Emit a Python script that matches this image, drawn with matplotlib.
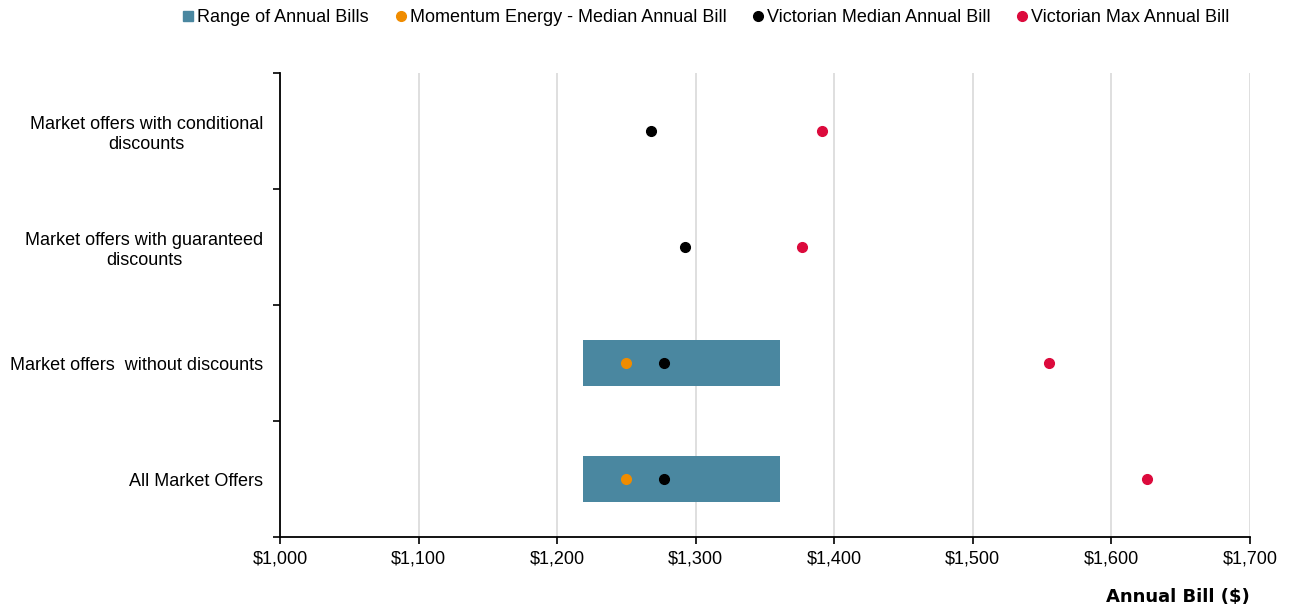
import matplotlib
matplotlib.use("Agg")
import matplotlib.pyplot as plt
from matplotlib.lines import Line2D
from matplotlib.ticker import FuncFormatter, MultipleLocator

categories = ["All Market Offers", "Market offers  without discounts",
              "Market offers with guaranteed\ndiscounts", "Market offers with conditional\ndiscounts"]
range_low = [1219, 1219, None, None]
range_high = [1361, 1361, None, None]
momentum_median = [1250, 1250, None, None]
vic_median = [1277, 1277, 1292, 1268]
vic_max = [1626, 1555, 1377, 1391]

plt.rcParams['font.family'] = ['Liberation Sans', 'DejaVu Sans']

fig = plt.figure(figsize=(12.91, 6.13), dpi=100)
ax = fig.add_axes([280/1291, 1-537/613, 970/1291, 464/613])

bar_color = '#4A87A0'
orange = '#F08C00'
red = '#DC0A3C'

ys = list(range(len(categories)))
for y, lo, hi in zip(ys, range_low, range_high):
    if lo is not None:
        ax.barh(y, hi - lo, left=lo, height=0.4, color=bar_color, zorder=2)
for y, v in zip(ys, momentum_median):
    if v is not None:
        ax.plot(v, y, 'o', color=orange, ms=7, zorder=3)
for y, v in zip(ys, vic_median):
    ax.plot(v, y, 'o', color='black', ms=7, zorder=3)
for y, v in zip(ys, vic_max):
    ax.plot(v, y, 'o', color=red, ms=7, zorder=3)

ax.set_xlim(1000, 1700)
ax.set_ylim(-0.5, len(categories) - 0.5)
ax.xaxis.set_major_locator(MultipleLocator(100))
ax.xaxis.set_major_formatter(FuncFormatter(lambda v, p: f"${v:,.0f}"))
ax.grid(axis='x', color='#D9D9D9', lw=1.2, zorder=0)
ax.set_axisbelow(True)

ax.set_yticks(ys)
ax.set_yticklabels(categories, fontsize=13)
for lbl in ax.get_yticklabels():
    lbl.set_multialignment('center')
    lbl.set_linespacing(1.25)
ax.tick_params(axis='y', length=0, pad=12)
ax.set_yticks([y + 0.5 for y in [-1] + ys], minor=True)
ax.tick_params(axis='y', which='minor', length=5, width=1.2, color='black')
ax.tick_params(axis='x', length=5, width=1.2, labelsize=13, pad=5)

for s in ['top', 'right']:
    ax.spines[s].set_visible(False)
for s in ['left', 'bottom']:
    ax.spines[s].set_linewidth(1.3)
    ax.spines[s].set_color('black')

fig.text(1250/1291, 1-597/613, "Annual Bill ($)", ha='right', va='center',
         fontsize=13, fontweight='bold', family=['DejaVu Sans'])

handles = [
    Line2D([], [], marker='s', ls='', color=bar_color, ms=7),
    Line2D([], [], marker='o', ls='', color=orange, ms=7),
    Line2D([], [], marker='o', ls='', color='black', ms=7),
    Line2D([], [], marker='o', ls='', color=red, ms=7),
]
labels = ["Range of Annual Bills", "Momentum Energy - Median Annual Bill",
          "Victorian Median Annual Bill", "Victorian Max Annual Bill"]
fig.legend(handles, labels, loc='center', bbox_to_anchor=(705/1291, 1-18/613), ncol=4,
           frameon=False, fontsize=13, handletextpad=0.05, columnspacing=1.3,
           handlelength=0.9)

fig.savefig("out.png", dpi=100)
